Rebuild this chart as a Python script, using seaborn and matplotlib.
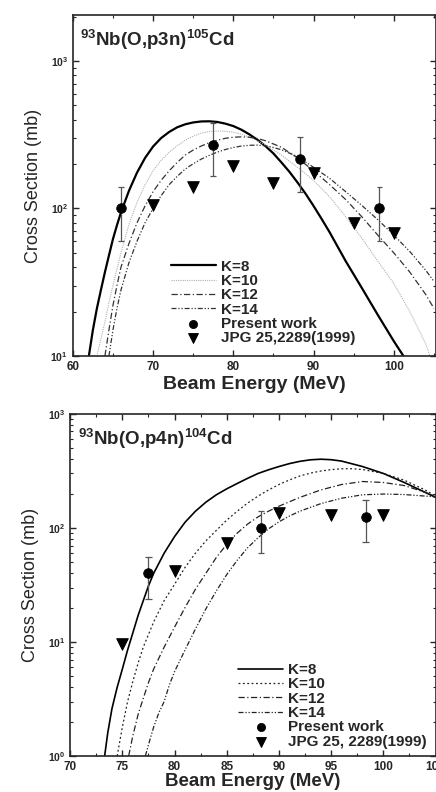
import numpy as np
import pandas as pd
import matplotlib
matplotlib.use("Agg")
import matplotlib.pyplot as plt
import matplotlib.ticker as mticker
import seaborn as sns

# ---- top panel: 93Nb(O,p3n)105Cd ----
top_k8_x = [62, 62.5, 63, 63.5, 64, 64.5, 65, 65.5, 66, 67, 68, 69, 70, 71, 72, 73, 74, 75, 76, 77, 78, 79, 80,
            81, 82, 83, 84, 85, 86, 87, 88, 89, 90, 91, 92, 94, 96, 98, 100, 101.2]
top_k8_y = [10, 15, 21, 28, 37, 48, 62, 77, 94, 132, 175, 220, 263, 300, 330, 355, 372, 383, 389, 390, 386, 376, 362,
            342, 318, 292, 265, 236, 205, 177, 150, 126, 104, 85, 69, 44, 29, 19, 12.6, 10]
top_k10_x = [63, 63.5, 64, 64.5, 65, 65.5, 66, 67, 68, 69, 70, 71, 72, 73, 74, 75, 76, 77, 78, 79, 80, 81, 82,
             84, 86, 88, 90, 92, 94, 96, 98, 100, 102, 104, 104.5]
top_k10_y = [10, 13, 17, 23, 30, 39, 50, 78, 110, 145, 180, 212, 240, 266, 290, 309, 324, 332, 335, 334, 329, 319, 305,
             270, 230, 190, 155, 120, 88, 63, 44, 31, 20, 12, 10]
top_k12_x = [64, 64.5, 65, 65.5, 66, 67, 68, 69, 70, 71, 72, 73, 74, 75, 76, 77, 78, 79, 80, 81, 82, 83, 84,
             86, 88, 90, 92, 94, 96, 98, 100, 102, 104, 105]
top_k12_y = [10, 15, 22, 30, 40, 58, 80, 104, 130, 155, 180, 205, 230, 249, 265, 279, 290, 299, 304, 306, 304, 298, 288,
             260, 220, 180, 145, 115, 88, 66, 50, 37, 26, 21]
top_k14_x = [64.5, 65, 65.5, 66, 67, 68, 69, 70, 71, 72, 73, 74, 75, 76, 77, 78, 79, 80, 81, 82, 83, 84, 85, 86,
             88, 90, 92, 94, 96, 98, 100, 102, 104, 105]
top_k14_y = [10, 15, 21, 28, 43, 60, 80, 100, 122, 145, 165, 185, 201, 216, 229, 241, 251, 259, 265, 268, 269, 266, 259, 250,
             225, 190, 160, 130, 105, 84, 66, 51, 38, 32]

top_pw_x = [66, 77.5, 88.3, 98.2]
top_pw_y = [100, 270, 215, 100]
top_pw_lo = [60, 165, 130, 60]
top_pw_hi = [140, 380, 305, 140]

top_jpg_x = [70, 75, 80, 85, 90, 95, 100]
top_jpg_y = [105, 140, 195, 150, 175, 80, 68]

# ---- bottom panel: 93Nb(O,p4n)104Cd ----
bot_k8_x = [73.3, 73.6, 74, 74.5, 75, 75.5, 76, 76.5, 77, 77.5, 78, 79, 80, 81, 82, 83, 84, 85, 86, 87, 88, 89, 90,
            91, 92, 93, 94, 95, 96, 98, 100, 102, 104, 105]
bot_k8_y = [1, 1.6, 2.6, 4, 5.8, 8.5, 12, 17, 23, 31, 40, 60, 84, 112, 140, 168, 195, 220, 245, 272, 300, 323, 345,
            366, 383, 395, 400, 396, 385, 345, 300, 250, 205, 185]
bot_k10_x = [74.5, 75, 75.5, 76, 76.5, 77, 78, 79, 80, 81, 82, 83, 84, 85, 86, 87, 88, 89, 90, 91, 92, 93, 94, 95,
             96, 97, 98, 100, 102, 104, 105]
bot_k10_y = [1, 1.8, 3, 4.5, 6.5, 9, 15, 23, 32, 45, 60, 77, 95, 117, 140, 165, 190, 215, 240, 263, 285, 302, 315, 324,
             330, 330, 325, 300, 262, 215, 190]
bot_k12_x = [75.6, 76, 76.5, 77, 77.5, 78, 79, 80, 81, 82, 83, 84, 85, 86, 87, 88, 89, 90, 92, 94, 96, 98, 100,
             102, 104, 105]
bot_k12_y = [1, 1.5, 2.3, 3.2, 4.4, 5.8, 9, 13.5, 20, 29, 40, 55, 72, 90, 108, 125, 140, 155, 185, 215, 240, 255, 250,
             235, 205, 190]
bot_k14_x = [77.2, 77.6, 78, 78.5, 79, 79.5, 80, 81, 82, 83, 84, 85, 86, 87, 88, 89, 90, 91, 92, 94, 96, 98, 100,
             102, 104, 105]
bot_k14_y = [1, 1.35, 1.8, 2.4, 3, 4.2, 5.5, 8.5, 13, 19.5, 28, 39, 52, 67, 82, 98, 113, 127, 140, 163, 182, 195, 198,
             196, 190, 187]

bot_pw_x = [77.5, 88.3, 98.3]
bot_pw_y = [40, 100, 125]
bot_pw_lo = [24, 60, 75]
bot_pw_hi = [56, 140, 175]

bot_jpg_x = [75, 80, 85, 90, 95, 100]
bot_jpg_y = [9.5, 42, 73, 135, 130, 130]

sns.set_style("ticks")
plt.rcParams['font.family'] = ['Liberation Sans', 'DejaVu Sans']
plt.rcParams['mathtext.fontset'] = 'custom'
plt.rcParams['mathtext.bf'] = 'Liberation Sans:bold'
plt.rcParams['mathtext.rm'] = 'Liberation Sans:bold'

fig = plt.figure(figsize=(4.36, 7.92), dpi=100)
ax1 = fig.add_axes([0.167, 0.5505, 0.832, 0.4306])
ax2 = fig.add_axes([0.161, 0.0455, 0.838, 0.432])


def draw_panel(ax, curves, styles, pw, jpg, legend_labels, jpg_label, cap):
    for (cx, cy), lab, st in zip(curves, legend_labels, styles):
        df = pd.DataFrame({'E': cx, 'sigma': cy})
        sns.lineplot(data=df, x='E', y='sigma', ax=ax, label=lab,
                     color=st['color'], linewidth=st['lw'], linestyle=st['ls'])
    px, py, plo, phi = pw
    px = np.array(px)
    ax.vlines(px, plo, phi, color='#555555', linewidth=0.9)
    ax.hlines(plo, px - cap, px + cap, color='#555555', linewidth=0.9)
    ax.hlines(phi, px - cap, px + cap, color='#555555', linewidth=0.9)
    sns.scatterplot(x=px, y=py, ax=ax, marker='o', s=48, color='black',
                    edgecolor='black', label='Present work', zorder=5)
    jx, jy = jpg
    sns.scatterplot(x=jx, y=jy, ax=ax, marker='v', s=70, color='black',
                    edgecolor='black', label=jpg_label, zorder=5)
    ax.set_yscale('log')
    ax.tick_params(axis='both', which='both', direction='in', top=True, right=True)
    ax.tick_params(which='major', length=4, width=1)
    ax.tick_params(which='minor', length=2, width=0.8)
    ax.tick_params(axis='x', labelsize=8.5)
    ax.tick_params(axis='y', labelsize=7.5)
    for sp in ax.spines.values():
        sp.set_linewidth(1.2)
    ax.set_ylabel('Cross Section (mb)', fontsize=13,
                  family=['Liberation Sans Narrow', 'Liberation Sans'], labelpad=6)


k_labels = ['K=8', 'K=10', 'K=12', 'K=14']
top_styles = [
    dict(color='black', lw=1.6, ls='-'),
    dict(color='#b0b0b0', lw=0.8, ls=(0, (1, 1))),
    dict(color='#333333', lw=0.9, ls=(0, (5, 2, 1, 2))),
    dict(color='#333333', lw=0.9, ls=(0, (4, 1.5, 1, 1.5, 1, 1.5))),
]
bot_styles = [
    dict(color='black', lw=1.2, ls='-'),
    dict(color='#222222', lw=0.9, ls=(0, (1.5, 2))),
    dict(color='#222222', lw=0.9, ls=(0, (5, 2, 1, 2))),
    dict(color='#222222', lw=0.9, ls=(0, (4, 1.5, 1, 1.5, 1, 1.5))),
]
leg_kw = dict(frameon=False, handlelength=3.0, handletextpad=0.3, labelspacing=0.02,
              borderpad=0.2, markerscale=0.85, prop={'weight': 'bold', 'size': 11})

draw_panel(ax1,
           [(top_k8_x, top_k8_y), (top_k10_x, top_k10_y), (top_k12_x, top_k12_y), (top_k14_x, top_k14_y)],
           top_styles, (top_pw_x, top_pw_y, top_pw_lo, top_pw_hi), (top_jpg_x, top_jpg_y),
           k_labels, 'JPG 25,2289(1999)', 0.35)
ax1.set_xlim(60, 105.2)
ax1.set_ylim(10, 2050)
ax1.xaxis.set_major_locator(mticker.MultipleLocator(10))
ax1.xaxis.set_minor_locator(mticker.MultipleLocator(5))
ax1.set_yticks([10, 100, 1000])
ax1.set_yticklabels([r'$\mathbf{10^{1}}$', r'$\mathbf{10^{2}}$', r'$\mathbf{10^{3}}$'])
ax1.set_xlabel('Beam Energy (MeV)', fontsize=14, fontweight='bold', labelpad=2)
ax1.text(0.02, 0.965, r'$^{\mathbf{93}}$Nb(O,p3n)$^{\mathbf{105}}$Cd', transform=ax1.transAxes,
         fontsize=13.5, fontweight='bold', va='top', ha='left')
ax1.legend(loc='lower left', bbox_to_anchor=(0.24, 0.0), **leg_kw)

draw_panel(ax2,
           [(bot_k8_x, bot_k8_y), (bot_k10_x, bot_k10_y), (bot_k12_x, bot_k12_y), (bot_k14_x, bot_k14_y)],
           bot_styles, (bot_pw_x, bot_pw_y, bot_pw_lo, bot_pw_hi), (bot_jpg_x, bot_jpg_y),
           k_labels, 'JPG 25, 2289(1999)', 0.3)
ax2.set_xlim(70, 105)
ax2.set_ylim(1, 1000)
ax2.xaxis.set_major_locator(mticker.MultipleLocator(5))
ax2.xaxis.set_minor_locator(mticker.MultipleLocator(2.5))
ax2.set_yticks([1, 10, 100, 1000])
ax2.set_yticklabels([r'$\mathbf{10^{0}}$', r'$\mathbf{10^{1}}$', r'$\mathbf{10^{2}}$', r'$\mathbf{10^{3}}$'])
ax2.set_xlabel('Beam Energy (MeV)', fontsize=13.5, fontweight='bold', labelpad=0)
ax2.text(0.02, 0.965, r'$^{\mathbf{93}}$Nb(O,p4n)$^{\mathbf{104}}$Cd', transform=ax2.transAxes,
         fontsize=13.5, fontweight='bold', va='top', ha='left')
ax2.legend(loc='lower right', bbox_to_anchor=(1.005, -0.01), **leg_kw)

for ax in (ax1, ax2):
    for lbl in ax.get_xticklabels():
        lbl.set_fontweight('bold')

fig.savefig('out.png', dpi=100)
